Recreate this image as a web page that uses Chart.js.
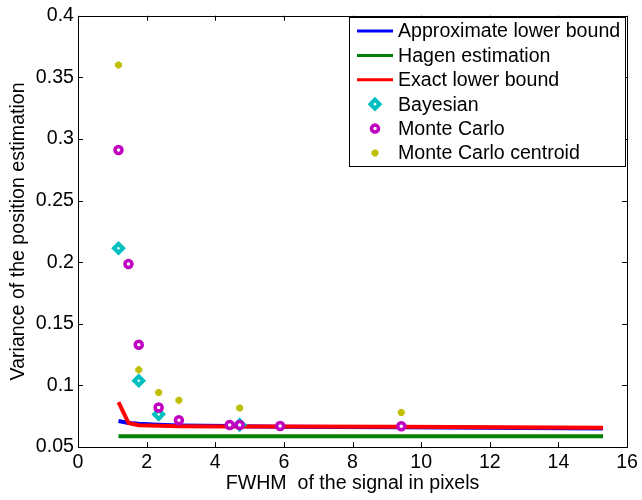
<!DOCTYPE html>
<html>
<head>
<meta charset="utf-8">
<script src="https://cdn.jsdelivr.net/npm/chart.js@4/dist/chart.umd.min.js"></script>
<style>
  html, body { margin: 0; padding: 0; background: #fff; }
  #wrap { width: 642px; height: 500px; }
</style>
</head>
<body>
<div id="wrap"><canvas id="myChart" width="642" height="500"></canvas></div>
<script>
const ctx = document.getElementById('myChart').getContext('2d');

// FWHM values (pixels)
const fwhm = [1.18, 1.47, 1.77, 2.35, 2.94, 4.42, 4.71, 5.89, 9.42, 15.3];

const approxLower = [0.0711, 0.0695, 0.0688, 0.0680, 0.0675, 0.0670, 0.0669, 0.0665, 0.0660, 0.0650];
const hagen       = [0.0588, 0.0588, 0.0588, 0.0588, 0.0588, 0.0588, 0.0588, 0.0588, 0.0588, 0.0588];
const exactLower  = [0.0864, 0.0695, 0.0677, 0.0672, 0.0669, 0.0667, 0.0667, 0.0666, 0.0664, 0.0657];

const bayesX = [1.18, 1.77, 2.35, 4.71];
const bayesY = [0.2113, 0.1038, 0.0765, 0.0680];

const mcX = [1.18, 1.47, 1.77, 2.35, 2.94, 4.42, 4.71, 5.89, 9.42];
const mcY = [0.291, 0.1985, 0.133, 0.082, 0.0717, 0.0679, 0.0679, 0.0671, 0.0669];

const centroidX = [1.18, 1.77, 2.35, 2.94, 4.71, 9.42];
const centroidY = [0.360, 0.1126, 0.0942, 0.088, 0.0816, 0.078];

const xTicks = [0, 2, 4, 6, 8, 10, 12, 14, 16];
const yTicks = [0.05, 0.1, 0.15, 0.2, 0.25, 0.3, 0.35, 0.4];

const FONT = "'Liberation Sans', Arial, sans-serif";
const FS = 19.6;

function pts(xs, ys) {
  return xs.map((x, i) => ({ x: x, y: ys[i] }));
}

// marco tipo Matlab con ticks hacia adentro
const boxPlugin = {
  id: 'box',
  afterDatasetsDraw(chart) {
    const c = chart.ctx;
    const a = chart.chartArea;
    const sx = chart.scales.x, sy = chart.scales.y;
    c.save();
    c.strokeStyle = '#000';
    c.lineWidth = 1;
    c.beginPath();
    xTicks.forEach(v => {
      const px = Math.round(sx.getPixelForValue(v)) + 0.5;
      c.moveTo(px, a.bottom); c.lineTo(px, a.bottom - 5);
      c.moveTo(px, a.top); c.lineTo(px, a.top + 5);
    });
    yTicks.forEach(v => {
      const py = Math.round(sy.getPixelForValue(v)) + 0.5;
      c.moveTo(a.left, py); c.lineTo(a.left + 5, py);
      c.moveTo(a.right, py); c.lineTo(a.right - 5, py);
    });
    c.stroke();
    c.strokeRect(Math.round(a.left) + 0.5, Math.round(a.top) + 0.5,
                 Math.round(a.right - a.left), Math.round(a.bottom - a.top));
    c.restore();
  }
};

function drawMarker(c, ds, x, y) {
  c.save();
  c.strokeStyle = ds.borderColor;
  c.fillStyle = ds.backgroundColor;
  c.lineWidth = ds.borderWidth;
  Chart.helpers.drawPoint(c, {
    pointStyle: ds.pointStyle,
    radius: ds.pointRadius,
    borderWidth: ds.borderWidth,
    rotation: 0
  }, x, y);
  c.restore();
}

// leyenda con recuadro
const legendPlugin = {
  id: 'boxLegend',
  afterDraw(chart) {
    const c = chart.ctx;
    const L = 349, T = 17, R = 625, B = 166;
    c.save();
    c.fillStyle = '#fff';
    c.fillRect(L, T, R - L, B - T);
    c.strokeStyle = '#000';
    c.lineWidth = 1;
    c.strokeRect(L + 0.5, T + 0.5, R - L, B - T);
    c.font = FS + 'px ' + FONT;
    c.textBaseline = 'middle';
    c.textAlign = 'left';
    chart.data.datasets.forEach((ds, i) => {
      const y = 31 + i * 24.4;
      if (ds.showLine) {
        c.strokeStyle = ds.borderColor;
        c.lineWidth = 3;
        c.beginPath();
        c.moveTo(357, y); c.lineTo(393, y);
        c.stroke();
      } else {
        drawMarker(c, ds, 375, y);
      }
      c.fillStyle = '#000';
      c.fillText(ds.label, 398, y + 1);
    });
    c.restore();
  }
};

const myChart = new Chart(ctx, {
  type: 'scatter',
  data: {
    datasets: [
      {
        label: 'Approximate lower bound',
        data: pts(fwhm, approxLower),
        showLine: true, borderColor: '#0000ff', backgroundColor: '#0000ff',
        borderWidth: 4, pointRadius: 0, order: 6
      },
      {
        label: 'Hagen estimation',
        data: pts(fwhm, hagen),
        showLine: true, borderColor: '#008000', backgroundColor: '#008000',
        borderWidth: 4, pointRadius: 0, order: 5
      },
      {
        label: 'Exact lower bound',
        data: pts(fwhm, exactLower),
        showLine: true, borderColor: '#ff0000', backgroundColor: '#ff0000',
        borderWidth: 4, pointRadius: 0, order: 4
      },
      {
        label: 'Bayesian',
        data: pts(bayesX, bayesY),
        showLine: false, pointStyle: 'rectRot', pointRadius: 4.5,
        borderColor: '#00bfbf', backgroundColor: '#ffffff', borderWidth: 4, order: 3
      },
      {
        label: 'Monte Carlo',
        data: pts(mcX, mcY),
        showLine: false, pointStyle: 'circle', pointRadius: 3.5,
        borderColor: '#bf00bf', backgroundColor: '#ffffff', borderWidth: 3.5, order: 2
      },
      {
        label: 'Monte Carlo centroid',
        data: pts(centroidX, centroidY),
        showLine: false, pointStyle: 'cross', pointRadius: 3.5,
        borderColor: '#bfbf00', backgroundColor: '#bfbf00', borderWidth: 4, order: 1
      }
    ]
  },
  options: {
    responsive: false,
    animation: false,
    events: [],
    layout: { padding: { left: 0, right: 10, top: 11, bottom: 0 } },
    plugins: {
      legend: { display: false },
      tooltip: { enabled: false }
    },
    scales: {
      x: {
        type: 'linear',
        min: 0, max: 16,
        border: { display: false },
        grid: { display: false, drawTicks: false },
        ticks: {
          stepSize: 2, color: '#000', padding: 4,
          font: { family: FONT, size: FS },
          maxRotation: 0, autoSkip: false
        },
        title: {
          display: true,
          text: 'FWHM  of the signal in pixels',
          color: '#000',
          font: { family: FONT, size: FS },
          padding: { top: 0, bottom: 5 }
        },
        afterFit(scale) { scale.height = 53; }
      },
      y: {
        type: 'linear',
        min: 0.05, max: 0.4,
        border: { display: false },
        grid: { display: false, drawTicks: false },
        ticks: {
          stepSize: 0.05, color: '#000', padding: 4,
          font: { family: FONT, size: FS },
          callback: v => String(Math.round(v * 100) / 100)
        },
        title: {
          display: true,
          text: 'Variance of the position estimation',
          color: '#000',
          font: { family: FONT, size: FS },
          padding: { top: 7, bottom: 0 }
        },
        afterFit(scale) { scale.width = 78; }
      }
    }
  },
  plugins: [boxPlugin, legendPlugin]
});
</script>
</body>
</html>
